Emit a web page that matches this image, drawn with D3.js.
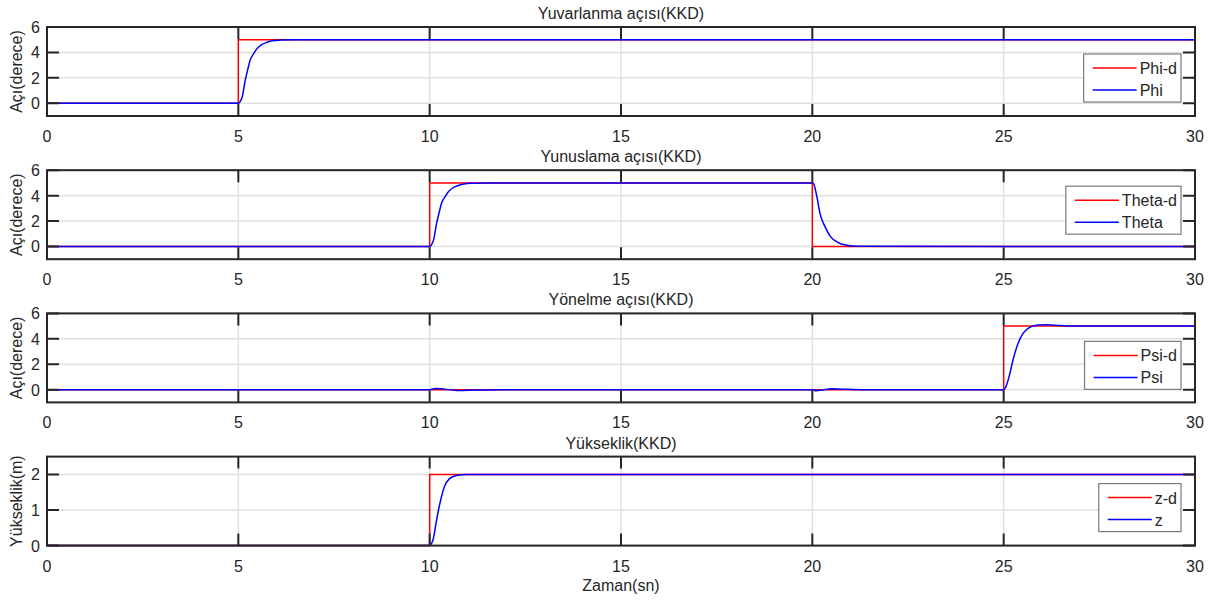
<!DOCTYPE html>
<html>
<head>
<meta charset="utf-8">
<script src="https://cdn.jsdelivr.net/npm/d3@7"></script>
<style>
  body { margin: 0; background: #fff; }
  text { font-family: "Liberation Sans", Arial, sans-serif; fill: #262626; }
</style>
</head>
<body>
<div class="chart"></div>
<script>
// reference (desired) signals, step shaped
var phiRefT = [0, 5, 5, 30, 30];
var phiRefV = [0, 0, 5, 5, 0];
var thetaRefT = [0, 10, 10, 20, 20, 30];
var thetaRefV = [0, 0, 5, 5, 0, 0];
var psiRefT = [0, 25, 25, 30, 30];
var psiRefV = [0, 0, 5, 5, 0];
var zRefT = [0, 10, 10, 30, 30];
var zRefV = [0, 0, 2, 2, 0];

var phiT = [0, 5, 5.05, 5.1, 5.18, 5.25, 5.31, 5.4, 5.49, 5.6, 5.75, 5.9, 6.1, 6.5, 30];
var phiV = [0, 0, 0.15, 0.5, 1.8, 2.7, 3.4, 3.9, 4.3, 4.6, 4.8, 4.92, 4.97, 5.0, 5.0];

var thetaT = [0, 10, 10.05, 10.1, 10.18, 10.25, 10.31, 10.4, 10.49, 10.6, 10.75, 10.9, 11.1, 11.5,
  20, 20.03, 20.12, 20.2, 20.34, 20.47, 20.65, 20.9, 21.2, 30];
var thetaV = [0, 0, 0.15, 0.5, 1.8, 2.7, 3.4, 3.9, 4.3, 4.6, 4.8, 4.92, 4.97, 5.0,
  5.0, 4.95, 3.9, 2.6, 1.5, 0.8, 0.35, 0.1, 0.02, 0];

var psiT = [0, 10, 10.15, 10.35, 10.7, 11.2, 11.8, 20, 20.1, 20.25, 20.5, 20.8, 21.3,
  25, 25.07, 25.16, 25.24, 25.37, 25.51, 25.68, 25.9, 26.12, 26.47, 26.9, 30];
var psiV = [0, 0, 0.1, 0.06, -0.06, -0.03, 0, 0, -0.08, -0.03, 0.07, 0.04, 0,
  0, 0.32, 1.24, 2.3, 3.6, 4.45, 4.9, 5.08, 5.1, 5.05, 5.0, 5.0];

var zT = [0, 10, 10.04, 10.09, 10.17, 10.26, 10.39, 10.52, 10.7, 10.96, 30];
var zV = [0, 0, 0.04, 0.17, 0.65, 1.15, 1.67, 1.88, 1.97, 2.0, 2.0];

var xTicks = [0, 5, 10, 15, 20, 25, 30];
var angleTicks = [0, 2, 4, 6];
var heightTicks = [0, 1, 2];

var titles = ['Yuvarlanma açısı(KKD)', 'Yunuslama açısı(KKD)', 'Yönelme açısı(KKD)', 'Yükseklik(KKD)'];
var yLabels = ['Açı(derece)', 'Açı(derece)', 'Açı(derece)', 'Yükseklik(m)'];
var refNames = ['Phi-d', 'Theta-d', 'Psi-d', 'z-d'];
var outNames = ['Phi', 'Theta', 'Psi', 'z'];

var zip = (ts, vs) => ts.map((t, i) => ({ t: t, v: vs[i] }));

var panels = [
  { ref: zip(phiRefT, phiRefV), out: zip(phiT, phiV), domain: [-1, 6], ticks: angleTicks, legendGap: 14 },
  { ref: zip(thetaRefT, thetaRefV), out: zip(thetaT, thetaV), domain: [-1, 6], ticks: angleTicks, legendGap: 25 },
  { ref: zip(psiRefT, psiRefV), out: zip(psiT, psiV), domain: [-1, 6], ticks: angleTicks, legendGap: 13 },
  { ref: zip(zRefT, zRefV), out: zip(zT, zV), domain: [0, 2.5], ticks: heightTicks, legendGap: 14 }
];

var W = 1221, H = 603;
var left = 47, right = 1195;
var tops = [27, 170.2, 313.4, 456.6];
var ph = 89;
var axisColor = '#262626';
var tickLen = 12;
var fs = '16px';

var svg = d3.select('.chart')
  .append('svg')
  .attr('width', W)
  .attr('height', H);

var x = d3.scaleLinear().domain([0, 30]).range([left, right]);

panels.forEach((p, k) => {
  var top = tops[k], bottom = top + ph;
  var y = d3.scaleLinear().domain(p.domain).range([bottom, top]);
  var g = svg.append('g');

  // grid
  g.selectAll('.gx').data(xTicks).enter().append('line')
    .attr('x1', d => x(d)).attr('x2', d => x(d))
    .attr('y1', top).attr('y2', bottom)
    .attr('stroke', '#dfdfdf').attr('stroke-width', 1.5);
  g.selectAll('.gy').data(p.ticks).enter().append('line')
    .attr('x1', left).attr('x2', right)
    .attr('y1', d => y(d)).attr('y2', d => y(d))
    .attr('stroke', '#dfdfdf').attr('stroke-width', 1.5);

  // data lines
  var stepLine = d3.line().x(d => x(d.t)).y(d => y(d.v));
  var smoothLine = d3.line().x(d => x(d.t)).y(d => y(d.v)).curve(d3.curveMonotoneX);

  g.append('path').attr('d', stepLine(p.ref))
    .attr('fill', 'none').attr('stroke', '#ff0000').attr('stroke-width', 1.5);
  g.append('path').attr('d', smoothLine(p.out))
    .attr('fill', 'none').attr('stroke', '#0000ff').attr('stroke-width', 1.5);

  // ticks (inward, on all four sides)
  g.selectAll('.tb').data(xTicks).enter().append('path')
    .attr('d', d => `M${x(d)},${bottom}v${-tickLen}M${x(d)},${top}v${tickLen}`)
    .attr('stroke', axisColor).attr('stroke-width', 2);
  g.selectAll('.tl').data(p.ticks).enter().append('path')
    .attr('d', d => `M${left},${y(d)}h${tickLen}M${right},${y(d)}h${-tickLen}`)
    .attr('stroke', axisColor).attr('stroke-width', 2);

  // box
  g.append('rect')
    .attr('x', left).attr('y', top)
    .attr('width', right - left).attr('height', ph)
    .attr('fill', 'none').attr('stroke', axisColor).attr('stroke-width', 2);

  // tick labels
  g.selectAll('.xl').data(xTicks).enter().append('text')
    .attr('x', d => x(d)).attr('y', bottom + 26)
    .attr('text-anchor', 'middle').style('font-size', fs)
    .text(d => d);
  g.selectAll('.yl').data(p.ticks).enter().append('text')
    .attr('x', 40).attr('y', d => y(d) + 6)
    .attr('text-anchor', 'end').style('font-size', fs)
    .text(d => d);

  // title and y label
  g.append('text')
    .attr('x', (left + right) / 2).attr('y', top - 8)
    .attr('text-anchor', 'middle').style('font-size', fs)
    .text(titles[k]);
  g.append('text')
    .attr('transform', `translate(22,${top + ph / 2}) rotate(-90)`)
    .attr('text-anchor', 'middle').style('font-size', fs)
    .text(yLabels[k]);

  // legend
  var lg = g.append('g');
  var names = [refNames[k], outNames[k]];
  var colors = ['#ff0000', '#0000ff'];
  var texts = lg.selectAll('text').data(names).enter().append('text')
    .style('font-size', fs).text(d => d);
  var tw = d3.max(texts.nodes(), n => n.getComputedTextLength());
  var bw = 9 + 44 + 3 + tw + 4, bh = 48;
  var bx = right - 14 - bw, by = bottom - p.legendGap - bh;
  lg.insert('rect', 'text')
    .attr('x', bx).attr('y', by).attr('width', bw).attr('height', bh)
    .attr('fill', '#fff').attr('stroke', '#7a7a7a').attr('stroke-width', 1.2);
  names.forEach((n, i) => {
    lg.append('line')
      .attr('x1', bx + 9).attr('x2', bx + 53)
      .attr('y1', by + 14 + i * 22).attr('y2', by + 14 + i * 22)
      .attr('stroke', colors[i]).attr('stroke-width', 1.5);
  });
  texts.attr('x', bx + 56).attr('y', (d, i) => by + 20 + i * 22);
});

svg.append('text')
  .attr('x', (left + right) / 2).attr('y', 591)
  .attr('text-anchor', 'middle').style('font-size', fs)
  .text('Zaman(sn)');
</script>
</body>
</html>
